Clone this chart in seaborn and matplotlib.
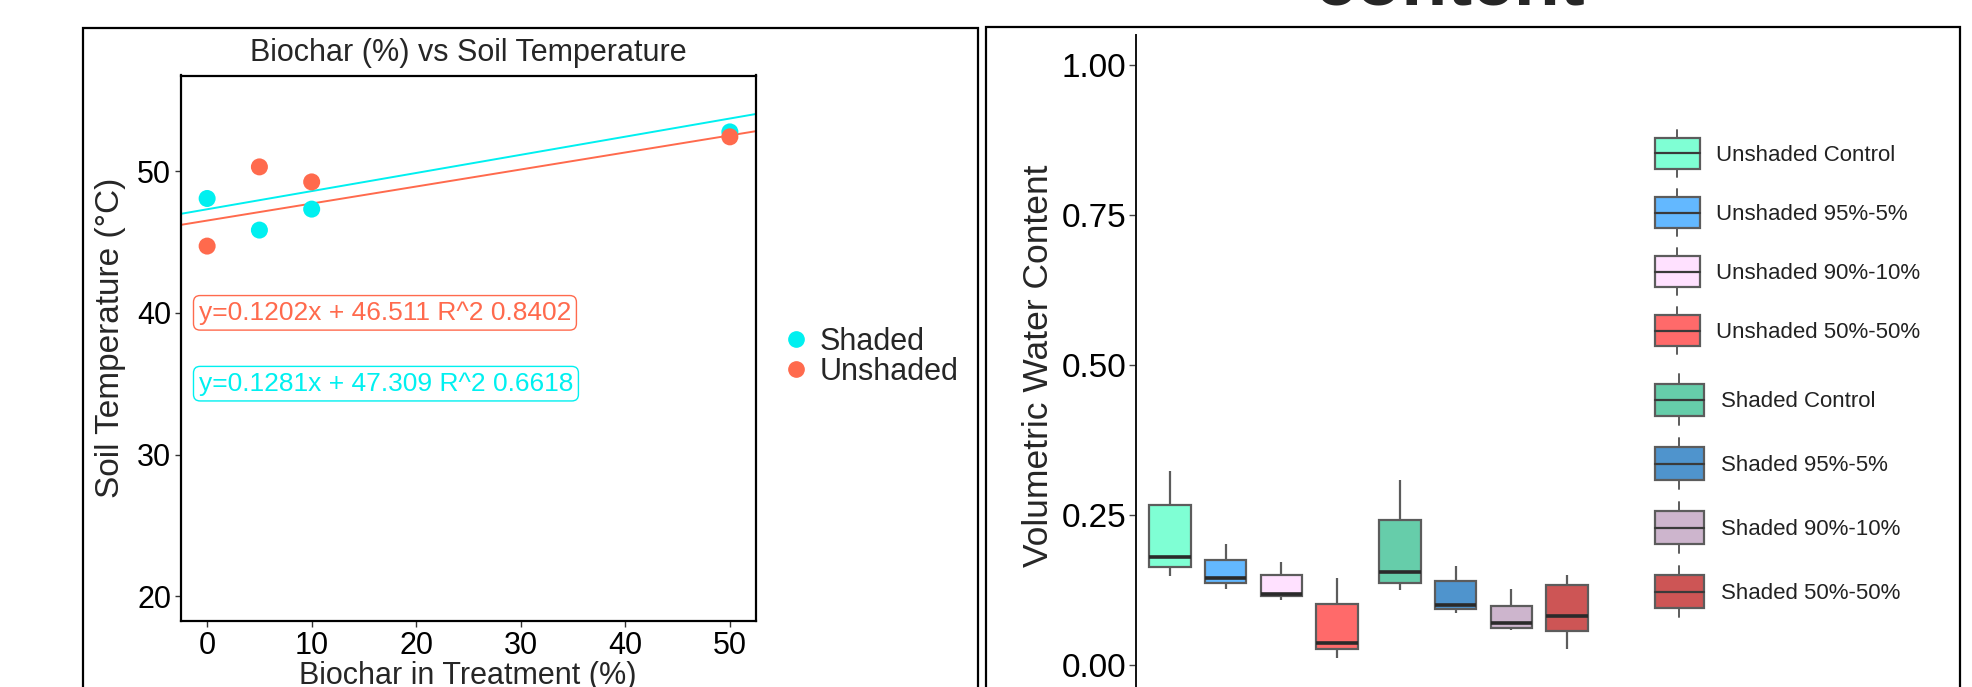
import numpy as np
import pandas as pd
import matplotlib
matplotlib.use("Agg")
import matplotlib.pyplot as plt
import seaborn as sns
from matplotlib.legend_handler import HandlerBase
from matplotlib.patches import Rectangle, Patch
from matplotlib.lines import Line2D

# ---------------- data ----------------
# left panel: soil temperature vs biochar
biochar_pct = [0, 5, 10, 50]
temp_shaded = [48.07, 45.84, 47.32, 52.77]
temp_unshaded = [44.71, 50.30, 49.24, 52.42]
temp_groups = ["Shaded", "Unshaded"]
fit_slope = [0.1281, 0.1202]
fit_intercept = [47.309, 46.511]
fit_r2 = [0.6618, 0.8402]

# right panel: volumetric water content box summaries
shade_levels = ["Unshaded", "Shaded"]
treatments = ["Control", "95%-5%", "90%-10%", "50%-50%"]
vwc_min = [0.148, 0.126, 0.108, 0.012, 0.125, 0.086, 0.058, 0.026]
vwc_q1 = [0.163, 0.136, 0.115, 0.027, 0.136, 0.093, 0.062, 0.057]
vwc_median = [0.180, 0.144, 0.118, 0.037, 0.154, 0.099, 0.069, 0.081]
vwc_q3 = [0.266, 0.174, 0.150, 0.101, 0.241, 0.140, 0.098, 0.133]
vwc_max = [0.323, 0.202, 0.172, 0.145, 0.308, 0.165, 0.126, 0.150]

colors_temp = {"Shaded": "#00F0F0", "Unshaded": "#FF6A4D"}
box_colors = ["#7FFFD4", "#63B8FF", "#FFE1FF", "#FF6A6A",
              "#66CDAA", "#4F94CD", "#CDB5CD", "#CD5555"]

# ---------------- frames ----------------
rows = []
for g, vals in zip(temp_groups, [temp_shaded, temp_unshaded]):
    for x, y in zip(biochar_pct, vals):
        rows.append({"biochar": x, "temp": y, "group": g})
dfT = pd.DataFrame(rows)

rows = []
i = 0
for s in shade_levels:
    for t in treatments:
        for v in (vwc_min[i], vwc_q1[i], vwc_median[i], vwc_q3[i], vwc_max[i]):
            rows.append({"shade": s, "treatment": t, "vwc": v})
        i += 1
dfV = pd.DataFrame(rows)

sns.set_theme(style="white")
plt.rcParams["font.family"] = ["Liberation Sans", "DejaVu Sans"]

W, H = 1972, 687
fig = plt.figure(figsize=(W / 100, H / 100), dpi=100)


def fx(px):
    return px / W


def fy(py):
    return 1 - py / H


# ---------------- left panel ----------------
axL = fig.add_axes([fx(181), fy(621), fx(756 - 181), (621 - 75.5) / H])
sns.scatterplot(data=dfT, x="biochar", y="temp", hue="group",
                hue_order=temp_groups, palette=colors_temp, s=150,
                edgecolor="none", legend=False, ax=axL, zorder=3)
for g, sl, b in zip(temp_groups, fit_slope, fit_intercept):
    axL.axline((0, b), slope=sl, color=colors_temp[g], lw=1.4, zorder=2)

axL.set_xlim(-2.5, 52.5)
axL.set_ylim(18.25, 56.75)
axL.set_xticks([0, 10, 20, 30, 40, 50])
axL.set_yticks([20, 30, 40, 50])
axL.set_xlabel("")
axL.set_ylabel("")
axL.tick_params(axis="both", labelsize=22, colors="#333333", labelcolor="black",
                length=4, width=1, pad=3, direction="out", bottom=True, left=True)
for sp in axL.spines.values():
    sp.set_color("black")
    sp.set_linewidth(1.6)

label_y = {"Unshaded": 40, "Shaded": 35}
for g, sl, b, r in zip(temp_groups, fit_slope, fit_intercept, fit_r2):
    axL.text(-0.8, label_y[g], f"y={sl:.4f}x + {b:.3f} R^2 {r:.4f}",
             color=colors_temp[g], fontsize=19, ha="left", va="center",
             bbox=dict(boxstyle="round,pad=0.2,rounding_size=0.25",
                       fc="white", ec=colors_temp[g], lw=1))

fig.text(fx(468), fy(52.5), "Biochar (%) vs Soil Temperature", fontsize=22,
         ha="center", va="center")
fig.text(fx(110.7), fy(337.7), "Soil Temperature (°C)", fontsize=24,
         rotation=90, ha="center", va="center")
fig.text(fx(468), fy(684), "Biochar in Treatment (%)", fontsize=22,
         ha="center", va="baseline")

handlesL = [Line2D([], [], marker="o", ls="", color=colors_temp[g],
                   markersize=11) for g in temp_groups]
axL.legend(handles=handlesL, labels=temp_groups, loc="center left",
           bbox_to_anchor=(fx(784), fy(356.5)), bbox_transform=fig.transFigure,
           frameon=False, fontsize=22, handlelength=0.8, handletextpad=0.35,
           labelspacing=0.0, borderpad=0, borderaxespad=0)

# ---------------- right panel ----------------
axR = fig.add_axes([fx(1136), fy(694.8), fx(1601 - 1136), 660 / H])
sns.boxplot(data=dfV, x="shade", y="vwc", hue="treatment", order=shade_levels,
            hue_order=treatments, palette=box_colors[:4], dodge=True,
            width=0.969, gap=0.26, whis=(0, 100), showcaps=False,
            linecolor="#5c5c5c", linewidth=1.6,
            medianprops=dict(color="#2a2a2a", linewidth=2.6),
            legend=False, ax=axR)
boxes = sorted(axR.patches, key=lambda p: p.get_path().vertices[:, 0].mean())
for p, c in zip(boxes, box_colors):
    p.set_facecolor(c)

axR.set_ylim(-0.05, 1.05)
axR.set_xlim(-0.511, 1.511)
axR.set_yticks([0, 0.25, 0.5, 0.75, 1.0])
axR.set_yticklabels(["0.00", "0.25", "0.50", "0.75", "1.00"])
axR.set_xticks([])
axR.set_xlabel("")
axR.set_ylabel("")
axR.tick_params(axis="y", labelsize=24, colors="#444444", labelcolor="black",
                length=5, width=1, pad=2, left=True)
for side in ["top", "right", "bottom"]:
    axR.spines[side].set_visible(False)
axR.spines["left"].set_color("#111111")
axR.spines["left"].set_linewidth(1.4)

fig.text(fx(1039), fy(366), "Volumetric Water Content", fontsize=25.5,
         rotation=90, ha="center", va="center")
fig.text(fx(1449), fy(6), "content", fontsize=54, fontweight="bold",
         ha="center", va="baseline")


class BoxHandler(HandlerBase):
    def create_artists(self, legend, orig_handle, xdescent, ydescent,
                       width, height, fontsize, trans):
        x0, y0 = -xdescent, -ydescent
        fc = orig_handle.get_facecolor()
        rect = Rectangle((x0, y0), width, height, facecolor=fc,
                         edgecolor="#5c5c5c", lw=1.6, transform=trans)
        med = Line2D([x0, x0 + width], [y0 + height / 2] * 2, color="#3a3a3a",
                     lw=1.6, transform=trans)
        cx = x0 + width / 2
        stub = 0.28 * height
        w1 = Line2D([cx, cx], [y0 + height, y0 + height + stub],
                    color="#5c5c5c", lw=1.4, transform=trans)
        w2 = Line2D([cx, cx], [y0 - stub, y0], color="#5c5c5c", lw=1.4,
                    transform=trans)
        return [w1, w2, rect, med]


labels_un = [f"Unshaded {t}" for t in treatments]
labels_sh = [f"Shaded {t}" for t in treatments]
hand_un = [Patch(facecolor=c) for c in box_colors[:4]]
hand_sh = [Patch(facecolor=c) for c in box_colors[4:]]

leg1 = axR.legend(handles=hand_un, labels=labels_un, loc="upper left",
                  bbox_to_anchor=(fx(1654.6), fy(138.2)),
                  bbox_transform=fig.transFigure, frameon=False, fontsize=16,
                  handler_map={Patch: BoxHandler()}, handlelength=2.03,
                  handleheight=1.735, labelspacing=1.285, handletextpad=0.72,
                  borderpad=0, borderaxespad=0, labelcolor="#222222")
axR.add_artist(leg1)
axR.legend(handles=hand_sh, labels=labels_sh, loc="upper left",
           bbox_to_anchor=(fx(1654.6), fy(383.5)),
           bbox_transform=fig.transFigure, frameon=False, fontsize=16,
           handler_map={Patch: BoxHandler()}, handlelength=2.22,
           handleheight=1.884, labelspacing=1.41, handletextpad=0.77,
           borderpad=0, borderaxespad=0, labelcolor="#222222")

# panel frames
fig.add_artist(Rectangle((fx(83), -0.1), fx(978 - 83), fy(28) + 0.1,
                         transform=fig.transFigure, fill=False,
                         ec="black", lw=1.6))
fig.add_artist(Rectangle((fx(986), -0.1), fx(1960 - 986), fy(27) + 0.1,
                         transform=fig.transFigure, fill=False,
                         ec="black", lw=1.6))

fig.savefig("out.png", dpi=100)
